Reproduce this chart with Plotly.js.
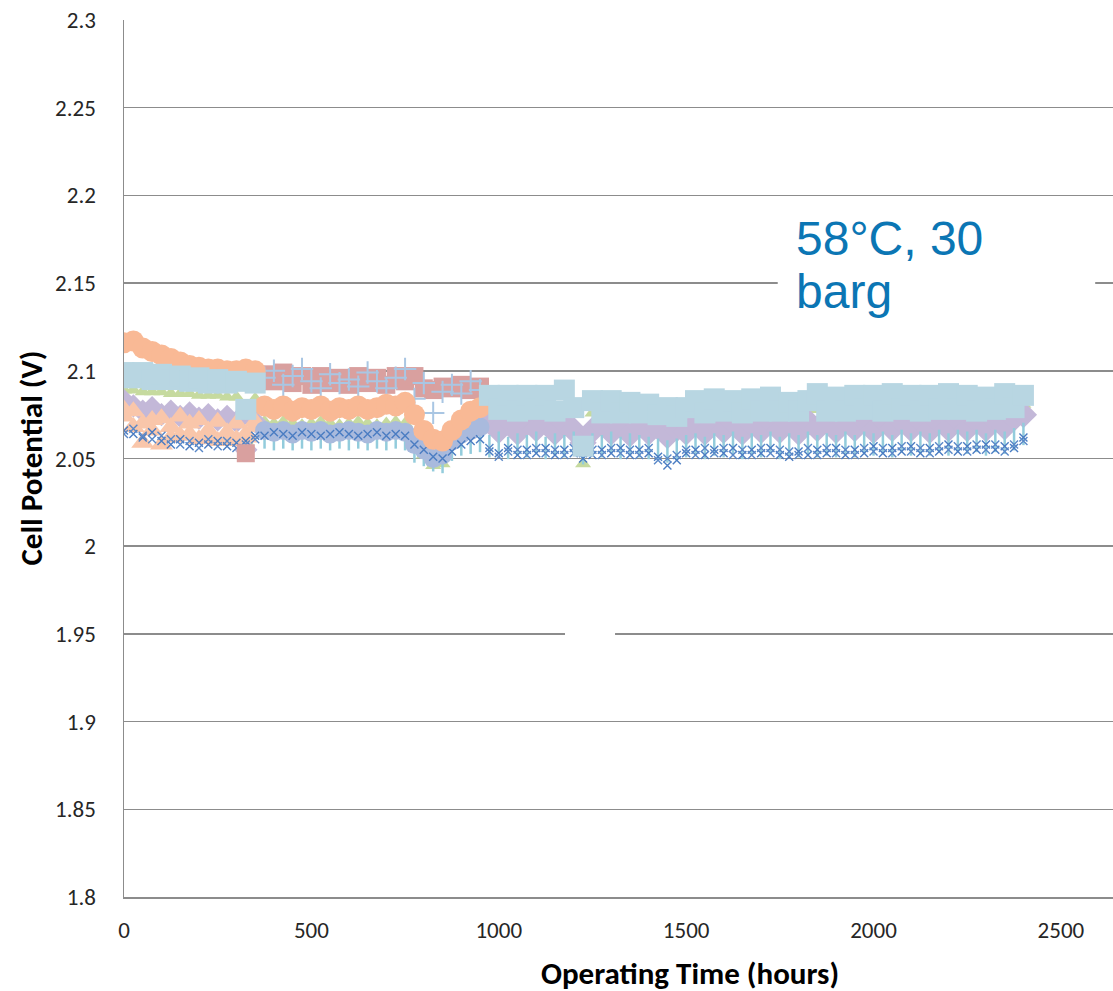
<!DOCTYPE html>
<html>
<head>
<meta charset="utf-8">
<script src="https://cdn.plot.ly/plotly-3.0.1.min.js"></script>
<style>html,body{margin:0;padding:0;background:#fff;}#chart{width:1113px;height:991px;}</style>
</head>
<body>
<div id="chart"></div>
<script>
// ---- time bases (hours) ----
const tEarly = [0,25,50,75,100,125,150,175,200,225,250,275,300,325,350];
const tMid = [375,400,425,450,475,500,525,550,575,600,625,650,675,700,725,750,775,800,825,850,875,900,925,950];
const tLate = [975,1000,1025,1050,1075,1100,1125,1150,1175,1200,1225,1250,1275,1300,1325,1350,1375,1400,1425,1450,
  1475,1500,1525,1550,1575,1600,1625,1650,1675,1700,1725,1750,1775,1800,1825,1850,1875,1900,1925,1950,
  1975,2000,2025,2050,2075,2100,2125,2150,2175,2200,2225,2250,2275,2300,2325,2350,2375,2400];

// ---- cell potentials (V) ----
const salmonTriEarly = [2.078,2.068,2.059,2.072,2.058,2.068,2.063,2.070,2.061,2.066,2.060,2.065,2.061,2.064,2.068];
const salmonTri2Early = [2.074,2.077,2.070,2.066,2.073,2.062,2.074,2.064,2.072,2.062,2.071,2.060,2.070,2.062,2.071];

const greenEarly = [2.089,2.089,2.088,2.088,2.088,2.087,2.087,2.087,2.086,2.086,2.086,2.085,2.085,2.060,2.084];
const greenMid = [2.071,2.070,2.071,2.070,2.069,2.070,2.071,2.070,2.069,2.070,2.071,2.070,2.069,2.070,2.071,2.070,2.060,2.052,2.046,2.047,2.058,2.066,2.070,2.073];
const greenLate = [2.077,2.077,2.078,2.077,2.077,2.078,2.077,2.077,2.076,2.077,
  2.047,2.076,2.076,2.075,2.075,2.075,2.074,2.074,2.074,2.073,
  2.074,2.075,2.076,2.076,2.077,2.077,2.077,2.078,2.077,2.077,
  2.078,2.077,2.077,2.077,2.078,2.078,2.078,2.077,2.078,2.078,
  2.079,2.078,2.078,2.079,2.078,2.078,2.079,2.078,2.078,2.079,
  2.079,2.078,2.078,2.079,2.079,2.078,2.079,2.081];

const lavenderEarly = [2.083,2.080,2.077,2.079,2.075,2.077,2.074,2.076,2.073,2.075,2.072,2.074,2.071,2.055,2.071];
const lavenderLate = [2.071,2.066,2.072,2.065,2.071,2.067,2.072,2.065,2.070,2.066,
  2.059,2.066,2.070,2.065,2.069,2.064,2.069,2.065,2.068,2.063,
  2.067,2.065,2.070,2.065,2.071,2.066,2.071,2.065,2.070,2.066,
  2.071,2.066,2.070,2.065,2.071,2.067,2.072,2.066,2.071,2.067,
  2.072,2.066,2.072,2.067,2.071,2.067,2.072,2.066,2.071,2.067,
  2.072,2.067,2.071,2.067,2.072,2.068,2.073,2.075];

const tealMid = [2.062,2.061,2.062,2.061,2.062,2.061,2.062,2.061,2.062,2.061,2.062,2.061,2.062,2.061,2.062,2.061,2.054,2.052,2.049,2.048,2.055,2.058,2.059,2.060];
const tealLate = [2.057,2.059,2.056,2.058,2.057,2.059,2.056,2.058,2.057,2.059,
  2.053,2.058,2.057,2.059,2.056,2.058,2.057,2.056,2.055,2.054,
  2.055,2.057,2.058,2.056,2.058,2.057,2.059,2.056,2.058,2.057,
  2.059,2.056,2.058,2.057,2.059,2.057,2.058,2.057,2.059,2.057,
  2.059,2.058,2.059,2.057,2.060,2.058,2.059,2.058,2.060,2.058,
  2.060,2.059,2.060,2.058,2.060,2.059,2.061,2.064];

const steelMid = [2.066,2.065,2.066,2.064,2.066,2.065,2.066,2.064,2.065,2.066,2.065,2.064,2.066,2.065,2.066,2.065,2.058,2.055,2.050,2.052,2.060,2.064,2.066,2.068];

const blueXEarly = [2.066,2.064,2.062,2.065,2.060,2.058,2.061,2.057,2.059,2.058,2.060,2.057,2.059,2.060,2.063];
const blueXMid = [2.063,2.065,2.064,2.063,2.065,2.064,2.063,2.064,2.065,2.064,2.063,2.064,2.065,2.063,2.064,2.063,2.058,2.055,2.051,2.050,2.054,2.058,2.060,2.061];
const blueXLate = [2.054,2.053,2.056,2.052,2.055,2.053,2.056,2.052,2.055,2.053,
  2.050,2.052,2.055,2.053,2.056,2.052,2.055,2.053,2.051,2.046,
  2.049,2.053,2.055,2.052,2.055,2.053,2.056,2.052,2.055,2.053,
  2.056,2.052,2.051,2.054,2.052,2.055,2.053,2.056,2.052,2.055,
  2.053,2.057,2.053,2.056,2.054,2.057,2.053,2.056,2.054,2.058,
  2.054,2.057,2.055,2.058,2.055,2.057,2.056,2.062];
const blueX2Early = [2.064,2.067,2.063,2.061,2.063,2.061,2.058,2.060,2.056,2.061,2.057,2.060,2.056,2.058,2.061];
const blueX2Late = [2.056,2.051,2.054,2.055,2.052,2.056,2.053,2.055,2.052,2.056,
  2.053,2.055,2.052,2.056,2.053,2.055,2.052,2.056,2.049,2.050,
  2.052,2.055,2.052,2.056,2.053,2.056,2.052,2.055,2.052,2.056,
  2.053,2.055,2.054,2.052,2.056,2.052,2.056,2.053,2.055,2.052,
  2.056,2.054,2.056,2.053,2.057,2.054,2.056,2.053,2.057,2.055,
  2.057,2.054,2.058,2.055,2.058,2.054,2.058,2.060];

const pinkEarly = [null,null,null,null,null,null,null,null,null,null,null,null,null,2.053,null];
const pinkMid = [2.098,2.094,2.099,2.093,2.097,2.092,2.097,2.093,2.096,2.092,2.097,2.093,2.096,2.092,2.097,2.094,2.097,2.090,2.089,2.091,2.090,2.092,2.089,2.091];

const crossMid = [2.096,2.100,2.092,2.097,2.101,2.094,2.090,2.098,2.093,2.095,2.091,2.099,2.094,2.090,2.096,2.101,2.084,2.093,2.076,2.088,2.092,2.087,2.094,2.089];

const orangeEarly = [2.116,2.117,2.113,2.111,2.109,2.107,2.105,2.103,2.102,2.101,2.101,2.100,2.100,2.101,2.100];
const orangeMid = [2.080,2.078,2.080,2.077,2.079,2.078,2.080,2.077,2.079,2.078,2.080,2.078,2.079,2.081,2.080,2.082,2.075,2.066,2.061,2.060,2.066,2.072,2.077,2.079];

const lightBlueEarly = [2.099,2.096,2.099,2.095,2.098,2.095,2.097,2.094,2.096,2.093,2.095,2.093,2.094,2.078,2.093];
const lightBlueLate = [2.086,2.078,2.086,2.077,2.086,2.078,2.086,2.077,2.089,2.079,
  2.057,2.083,2.076,2.083,2.076,2.082,2.076,2.081,2.075,2.079,
  2.074,2.079,2.083,2.076,2.084,2.077,2.083,2.076,2.084,2.077,
  2.085,2.077,2.082,2.077,2.083,2.087,2.077,2.085,2.077,2.086,
  2.078,2.086,2.077,2.087,2.078,2.086,2.077,2.086,2.078,2.087,
  2.078,2.086,2.077,2.085,2.078,2.087,2.079,2.086];

// ---- axis ticks ----
const xTickVals = [0,500,1000,1500,2000,2500];
const xTickText = ['0','500','1000','1500','2000','2500'];
const yTickVals = [1.8,1.85,1.9,1.95,2,2.05,2.1,2.15,2.2,2.25,2.3];
const yTickText = ['1.8','1.85','1.9','1.95','2','2.05','2.1','2.15','2.2','2.25','2.3'];

function filled(x, y, color, symbol, size) {
  return {x: x, y: y, type: 'scatter', mode: 'markers', hoverinfo: 'skip',
    marker: {color: color, symbol: symbol, size: size, line: {width: 0}}};
}
function lined(x, y, color, symbol, size, w) {
  return {x: x, y: y, type: 'scatter', mode: 'markers', hoverinfo: 'skip',
    marker: {color: color, symbol: symbol, size: size, line: {width: w, color: color}}};
}

const blueXHours = tEarly.concat(tMid, tLate);
const blueX2Hours = tEarly.concat(tLate);

const traces = [
  filled(tEarly.concat(tMid, tLate), greenEarly.concat(greenMid, greenLate), '#C6DA9F', 'triangle-up', 14),
  filled(tEarly, lavenderEarly, '#C3B8D8', 'diamond', 18),
  filled(tLate, lavenderLate, '#C3B8D8', 'diamond', 21),
  filled(tEarly, salmonTri2Early, '#F9C6AA', 'triangle-up', 20),
  filled(tEarly, salmonTriEarly, '#F9C6AA', 'triangle-up', 20),
  lined(tMid.concat(tLate), tealMid.concat(tealLate), '#93CCDC', 'line-ns', 16, 2.5),
  filled(tMid, steelMid, '#A9BADD', 'circle', 19),
  lined(blueXHours, blueXEarly.concat(blueXMid, blueXLate), '#4A7CC2', 'x-thin', 8, 1.4),
  lined(blueX2Hours, blueX2Early.concat(blueX2Late), '#5A88C8', 'x-thin', 8, 1.4),
  filled(tEarly.concat(tMid), pinkEarly.concat(pinkMid), '#D9A09F', 'square', 18),
  lined(tMid, crossMid, '#A9C6E3', 'cross-thin', 16, 2),
  filled(tEarly.concat(tMid), orangeEarly.concat(orangeMid), '#F9B995', 'circle', 21),
  filled(tEarly.concat(tLate), lightBlueEarly.concat(lightBlueLate), '#B8D6E2', 'square', 21)
];

const tickFont = {family: 'Carlito, Calibri, "Open Sans", sans-serif', size: 23, color: '#262626'};
const titleFont = {family: 'Carlito, Calibri, "Open Sans", sans-serif', size: 31, color: '#000000', weight: 'bold'};
const noteFont = {family: '"Liberation Sans", Arial, sans-serif', size: 48, color: '#0B76B4'};

const layout = {
  width: 1113, height: 991,
  margin: {l: 124, r: 0, t: 20, b: 94, pad: 0},
  paper_bgcolor: '#ffffff', plot_bgcolor: '#ffffff',
  showlegend: false,
  xaxis: {range: [0, 2639], tickvals: xTickVals, ticktext: xTickText, showgrid: false, zeroline: false,
    showline: true, linecolor: '#8C8C8C', linewidth: 1.5, ticks: '', tickfont: tickFont, ticklabelstandoff: 12},
  yaxis: {range: [1.8, 2.3], tickvals: yTickVals, ticktext: yTickText, showgrid: true, gridcolor: '#8C8C8C',
    gridwidth: 1.5, zeroline: false, showline: true, linecolor: '#8C8C8C', linewidth: 1.5, ticks: '',
    tickfont: tickFont, ticklabelstandoff: 22},
  shapes: [
    {type: 'rect', xref: 'paper', yref: 'paper', x0: 0.661, x1: 0.982, y0: 0.66, y1: 0.785,
      fillcolor: '#ffffff', line: {width: 0}, layer: 'above'},
    {type: 'rect', xref: 'paper', yref: 'paper', x0: 0.4459, x1: 0.4965, y0: 0.294, y1: 0.306,
      fillcolor: '#ffffff', line: {width: 0}, layer: 'above'}
  ],
  annotations: [
    {text: 'Operating Time (hours)', xref: 'paper', yref: 'paper', x: 0.5723, y: -0.0867,
      xanchor: 'center', yanchor: 'middle', showarrow: false, font: titleFont},
    {text: 'Cell Potential (V)', xref: 'paper', yref: 'paper', x: -0.095, y: 0.5, textangle: -90,
      xanchor: 'center', yanchor: 'middle', showarrow: false, font: titleFont},
    {text: '58°C, 30', xref: 'paper', yref: 'paper', x: 0.6775, y: 0.751,
      xanchor: 'left', yanchor: 'middle', showarrow: false, font: noteFont},
    {text: 'barg', xref: 'paper', yref: 'paper', x: 0.6775, y: 0.690,
      xanchor: 'left', yanchor: 'middle', showarrow: false, font: noteFont}
  ]
};

Plotly.newPlot('chart', traces, layout, {staticPlot: true, displayModeBar: false});
</script>
</body>
</html>
